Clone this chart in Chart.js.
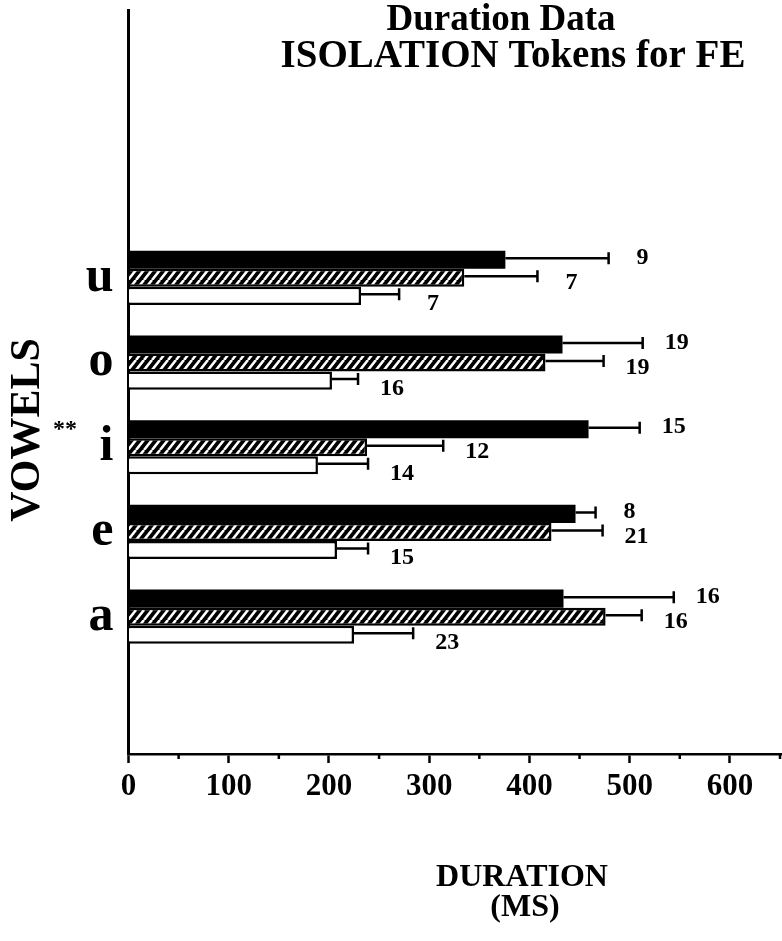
<!DOCTYPE html>
<html>
<head>
<meta charset="utf-8">
<script src="https://cdn.jsdelivr.net/npm/chart.js@4/dist/chart.umd.min.js"></script>
<style>
  html, body { margin: 0; padding: 0; background: #ffffff; }
  canvas { display: block; }
</style>
</head>
<body>
<canvas id="chart" width="782" height="941"></canvas>
<script>
// Vowel categories, top to bottom
const vowels = ['u', 'o', 'i', 'e', 'a'];

// Mean durations (ms) per condition, with error-bar extents
const solidMeans   = [376, 433, 459, 446, 434];
const solidErr     = [103, 80, 51, 20, 110];
const hatchedMeans = [335, 416, 238, 422, 476];
const hatchedErr   = [73, 58, 76, 51, 36];
const openMeans    = [232, 203, 189, 208, 225];
const openErr      = [38, 26, 50, 31, 59];

// Token counts printed beside each bar
const solidN   = [9, 19, 15, 8, 16];
const hatchedN = [7, 19, 12, 21, 16];
const openN    = [7, 16, 14, 15, 23];

// Axis ticks
const xMajorTicks = [0, 100, 200, 300, 400, 500, 600];
const xMinorTicks = [50, 150, 250, 350, 450, 550, 650];

const SERIF = '"Liberation Serif", "Times New Roman", serif';

// Diagonal hatch tile: white slashes on black
function hatchTile() {
  const w = 8, h = 10;
  const c = document.createElement('canvas');
  c.width = w; c.height = h;
  const g = c.getContext('2d');
  g.fillStyle = '#000000';
  g.fillRect(0, 0, w, h);
  g.strokeStyle = '#ffffff';
  g.lineWidth = 2.6;
  for (const dx of [-w, 0, w]) {
    g.beginPath();
    g.moveTo(dx, h);
    g.lineTo(dx + w, 0);
    g.stroke();
  }
  return c;
}
const ctx = document.getElementById('chart').getContext('2d');
const hatch = ctx.createPattern(hatchTile(), 'repeat');

const toPoints = (arr) => arr.map((v, i) => ({ x: v, y: i }));

const series = [
  { means: solidMeans, err: solidErr, n: solidN, dy: -2 },
  { means: hatchedMeans, err: hatchedErr, n: hatchedN, dy: 5 },
  { means: openMeans, err: openErr, n: openN, dy: 8 }
];

const annotate = {
  id: 'annotate',
  afterDatasetsDraw(chart) {
    const c = chart.ctx;
    const xs = chart.scales.x;
    c.save();
    c.strokeStyle = '#000000';
    c.fillStyle = '#000000';
    c.lineWidth = 2.5;
    c.font = 'bold 24px ' + SERIF;
    c.textAlign = 'center';
    c.textBaseline = 'middle';
    series.forEach((s, d) => {
      const meta = chart.getDatasetMeta(d);
      meta.data.forEach((bar, i) => {
        const y = bar.y - 1.5;
        const x0 = xs.getPixelForValue(s.means[i]);
        const x1 = xs.getPixelForValue(s.means[i] + s.err[i]);
        c.beginPath();
        c.moveTo(x0, y);
        c.lineTo(x1, y);
        c.moveTo(x1, y - 6);
        c.lineTo(x1, y + 6);
        c.stroke();
        c.fillText(String(s.n[i]), x1 + 34, bar.y + s.dy);
      });
    });
    c.restore();
  },
  afterDraw(chart) {
    const c = chart.ctx;
    const xs = chart.scales.x;
    const base = chart.chartArea.bottom;
    c.save();
    // minor ticks on the duration axis
    c.strokeStyle = '#000000';
    c.lineWidth = 2.5;
    xMinorTicks.forEach(v => {
      const px = xs.getPixelForValue(v);
      c.beginPath();
      c.moveTo(px, base);
      c.lineTo(px, base + 5);
      c.stroke();
    });
    c.fillStyle = '#000000';
    c.textAlign = 'center';
    c.textBaseline = 'middle';
    // heading
    c.font = 'bold 37px ' + SERIF;
    c.fillText('Duration Data', 501, 20);
    c.font = 'bold 39px ' + SERIF;
    c.fillText('ISOLATION Tokens for FE', 513, 57);
    // axis titles
    c.font = 'bold 32px ' + SERIF;
    c.fillText('DURATION', 522, 878);
    c.fillText('(MS)', 525, 908);
    c.save();
    c.translate(28, 430);
    c.rotate(-Math.PI / 2);
    c.font = 'bold 42px ' + SERIF;
    c.fillText('VOWELS', 0, 0);
    c.restore();
    c.font = 'bold 24px ' + SERIF;
    c.fillText('**', 65, 430);
    c.restore();
  }
};

new Chart(ctx, {
  type: 'bar',
  data: {
    datasets: [
      {
        label: 'solid',
        data: toPoints(solidMeans),
        backgroundColor: '#000000',
        borderWidth: 0
      },
      {
        label: 'hatched',
        data: toPoints(hatchedMeans),
        backgroundColor: hatch,
        borderColor: '#000000',
        borderWidth: 2.5,
        borderSkipped: 'start'
      },
      {
        label: 'open',
        data: toPoints(openMeans),
        backgroundColor: '#ffffff',
        borderColor: '#000000',
        borderWidth: 2.5,
        borderSkipped: 'start'
      }
    ]
  },
  options: {
    indexAxis: 'y',
    responsive: false,
    devicePixelRatio: 1,
    animation: false,
    categoryPercentage: 0.64,
    barPercentage: 1.0,
    layout: { padding: { top: 10, right: 0, bottom: 0, left: 0 } },
    plugins: {
      legend: { display: false },
      tooltip: { enabled: false },
      title: { display: false }
    },
    scales: {
      x: {
        type: 'linear',
        min: 0,
        max: 652,
        afterBuildTicks: (scale) => { scale.ticks = xMajorTicks.map(v => ({ value: v })); },
        afterFit: (scale) => {
          scale.height = 187;
          scale.paddingLeft = 0;
          scale.paddingRight = 0;
        },
        grid: {
          drawOnChartArea: false,
          drawTicks: true,
          tickLength: 9,
          tickWidth: 2.5,
          tickColor: '#000000'
        },
        border: { display: true, color: '#000000', width: 2.5 },
        ticks: {
          color: '#000000',
          padding: 5,
          maxRotation: 0,
          autoSkip: false,
          font: { family: SERIF, weight: 'bold', size: 31 }
        }
      },
      y: {
        type: 'linear',
        reverse: true,
        offset: false,
        min: -3.16,
        max: 5.62,
        afterBuildTicks: (scale) => { scale.ticks = vowels.map((_, i) => ({ value: i })); },
        afterFit: (scale) => {
          scale.width = 128.5;
          scale.paddingTop = 0;
          scale.paddingBottom = 0;
        },
        grid: { display: false, drawTicks: false, offset: false },
        border: { display: true, color: '#000000', width: 3 },
        ticks: {
          color: '#000000',
          padding: 15,
          autoSkip: false,
          callback: (v) => vowels[v] ?? '',
          font: { family: SERIF, weight: 'bold', size: 50 }
        }
      }
    }
  },
  plugins: [annotate]
});
</script>
</body>
</html>
